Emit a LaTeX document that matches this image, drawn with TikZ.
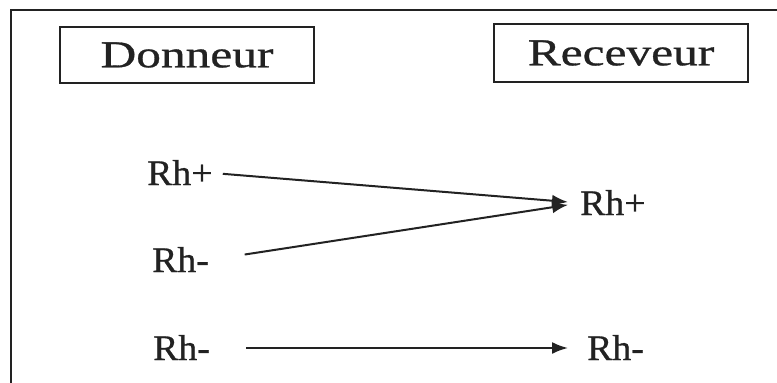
\documentclass[tikz,border=0pt]{standalone}
\usepackage{fontspec}
\setmainfont{Liberation Serif}
\newfontfamily\boxfont[FakeStretch=1.3,FakeBold=0.8]{Liberation Serif}
\newfontfamily\rhfont[FakeStretch=1.05,FakeBold=0.8]{Liberation Serif}
\usetikzlibrary{arrows.meta}
\definecolor{ink}{HTML}{222222}
\tikzset{
  labelbox/.style={draw=ink, line width=2.6pt, minimum width=254pt, inner sep=0pt,
     font=\boxfont\fontsize{38}{40}\selectfont, text=ink},
  rhtext/.style={inner sep=0pt, text height=24pt, text depth=0pt, anchor=base west,
     font=\rhfont\fontsize{36}{40}\selectfont, text=ink},
  conn/.style={draw=ink, line width=2pt, -{Latex[length=16pt,width=12pt]}},
  frameline/.style={draw=ink, line width=2.2pt}
}
\begin{document}
\begin{tikzpicture}[x=1pt,y=-1pt]
\useasboundingbox (0,0) rectangle (777,383);
\fill[white] (0,0) rectangle (777,383);
% frame
\coordinate (ftr) at (777,10);
\coordinate (ftl) at (11,10);
\coordinate (fbl) at (11,383);
\draw[frameline] (ftr) -- (ftl) -- (fbl);
% boxes
\node[labelbox, minimum height=56pt] (don) at (187,55) {Donneur};
\node[labelbox, minimum height=58pt] (rec) at (621,53) {Receveur};
% texts
\node[rhtext] (lp) at (147,185) {Rh+};
\node[rhtext] (lm) at (152,272) {Rh-};
\node[rhtext] (lb) at (153,360) {Rh-};
\node[rhtext] (rp) at (580,215) {Rh+};
\node[rhtext] (rb) at (587,360) {Rh-};
% connectors
\draw[conn, shorten <=10pt, shorten >=12pt] (lp.east) -- (rp.west);
\draw[conn, shorten <=36pt, shorten >=12pt] (lm.east) -- (rp.west);
\draw[conn, shorten <=36pt, shorten >=19pt] (lb.east) -- (rb.west);
\end{tikzpicture}
\end{document}
